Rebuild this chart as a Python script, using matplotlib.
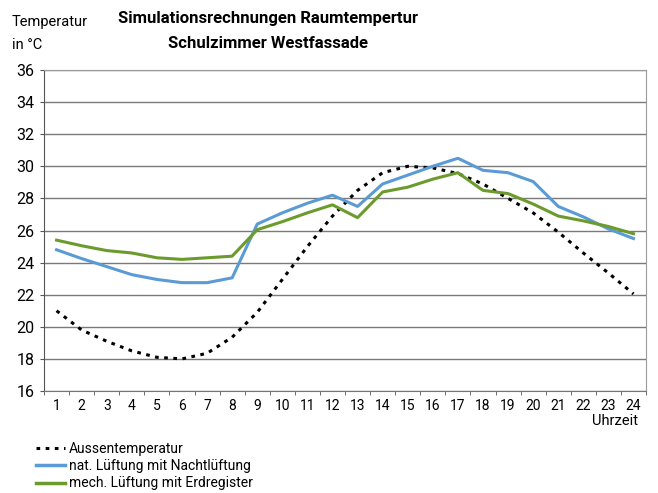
import numpy as np
import matplotlib
matplotlib.use('Agg')
import matplotlib.pyplot as plt
from matplotlib.lines import Line2D

plt.rcParams['font.family'] = ['Roboto', 'DejaVu Sans']

hours = list(range(1, 25))
aussen = [21.0, 19.8, 19.1, 18.5, 18.1, 18.0, 18.35, 19.35, 20.9, 22.95, 25.0, 26.9,
          28.5, 29.6, 30.0, 29.9, 29.55, 28.9, 28.0, 27.1, 25.9, 24.6, 23.35, 22.05]
nat = [24.8, 24.25, 23.75, 23.25, 22.95, 22.75, 22.75, 23.05, 26.4, 27.1, 27.7, 28.2,
       27.5, 28.9, 29.45, 30.0, 30.5, 29.75, 29.6, 29.05, 27.5, 26.85, 26.1, 25.5]
mech = [25.4, 25.05, 24.75, 24.6, 24.3, 24.2, 24.3, 24.4, 26.05, 26.55, 27.1, 27.6,
        26.8, 28.4, 28.7, 29.2, 29.6, 28.5, 28.3, 27.65, 26.9, 26.6, 26.25, 25.8]
labels = ['Aussentemperatur', 'nat. Lüftung mit Nachtlüftung', 'mech. Lüftung mit Erdregister']

blue = '#5b9bd5'
green = '#6b9b2c'

fig = plt.figure(figsize=(6.58, 4.93), dpi=100)
ax = fig.add_axes([0.0669, 0.2069, 0.9149, 0.6511])

ax.plot(hours, aussen, color='black', lw=2.2, linestyle=(0, (1.2, 1.8)))
ax.plot(hours, nat, color=blue, lw=2.2)
ax.plot(hours, mech, color=green, lw=2.2)

ax.set_xlim(0.5, 24.5)
ax.set_ylim(16, 36)
ax.set_yticks(range(16, 37, 2))
ax.set_xticks(hours)
ax.set_xticks(np.arange(0.5, 25, 1), minor=True)
ax.tick_params(axis='x', which='major', length=0, labelsize=10, pad=6)
ax.tick_params(axis='x', which='minor', length=3, color='#555555')
ax.tick_params(axis='y', length=3, color='#555555', labelsize=11.5, pad=4)
ax.grid(axis='y', color='#7a7a7a', lw=1.0)
ax.set_axisbelow(True)
for s in ax.spines.values():
    s.set_color('#9a9a9a')
ax.spines['left'].set_color('#555555')
ax.spines['bottom'].set_color('#777777')

fig.text(638 / 658, 1 - 421 / 493, 'Uhrzeit', ha='right', va='center', fontsize=10.5)
fig.text(12 / 658, 1 - 22 / 493, 'Temperatur', ha='left', va='center', fontsize=10.5)
fig.text(12 / 658, 1 - 45 / 493, 'in °C', ha='left', va='center', fontsize=10.5)
fig.text(268 / 658, 1 - 18 / 493, 'Simulationsrechnungen Raumtempertur',
         ha='center', va='center', fontsize=12, fontweight='bold')
fig.text(268 / 658, 1 - 43 / 493, 'Schulzimmer Westfassade',
         ha='center', va='center', fontsize=12, fontweight='bold')

handles = [Line2D([], [], color='black', lw=2.2, linestyle=(0, (1.2, 1.8))),
           Line2D([], [], color=blue, lw=2.5),
           Line2D([], [], color=green, lw=2.5)]
fig.legend(handles, labels, loc='upper left', bbox_to_anchor=(30 / 658, 1 - 436 / 493),
           frameon=False, fontsize=10, handlelength=2.1, handletextpad=0.3,
           labelspacing=0.25, borderaxespad=0)

fig.savefig('out.png', dpi=100)
